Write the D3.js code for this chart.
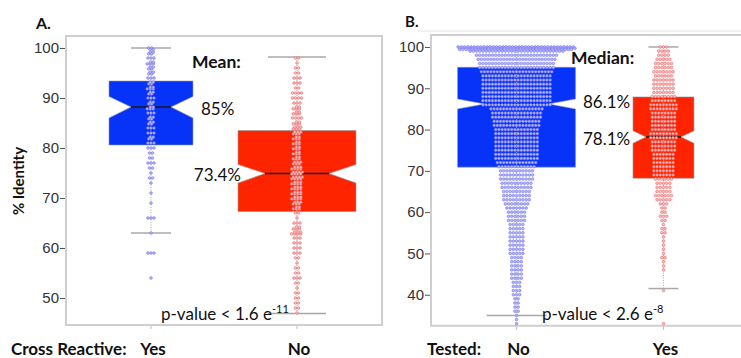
<!DOCTYPE html>
<html>
<head>
<meta charset="utf-8">
<script src="https://cdn.jsdelivr.net/npm/d3@7"></script>
<style>
  body { margin: 0; background: #fff; }
  svg { display: block; font-family: Lato, "Liberation Sans", sans-serif; }
</style>
</head>
<body>
<div id="chart"></div>
<script>
// ---- data ----
// Panel A: cross reactive
const groupsA = ["Yes", "No"];
const q1A = [80.6, 67.3];
const medA = [88.2, 74.9];
const q3A = [93.4, 83.5];
const notchLoA = [86.0, 73.0];
const notchHiA = [90.3, 76.7];
const whiskLoA = [63.0, 46.9];
const whiskHiA = [100, 98.2];
// dot counts per 1% bin, starting at topBin and going down
const topBinA = [100, 98];
const countsAYes = [4,4,3,5,4,4,3,4,5,4,3,4,5,3,4,4,3,3,4,3,3,2,2,3,2,1,2,1,0,1,0,1,0,0,3,0,0,1,0,0,0,3,0,0,0,0,1];
const countsANo = [2,1,2,2,3,3,2,4,4,3,5,5,4,5,6,6,5,5,5,5,5,6,7,8,8,7,7,7,7,6,5,2,1,3,5,7,3,3,3,3,2,1,2,2,3,2,1,2,2,2,2,1];

// Panel B: tested
const groupsB = ["No", "Yes"];
const q1B = [70.9, 68.2];
const medB = [86.2, 78.2];
const q3B = [95.1, 87.9];
const notchLoB = [85.0, 76.7];
const notchHiB = [87.4, 79.7];
const whiskLoB = [35.0, 41.5];
const whiskHiB = [100, 100];
const topBinB = [100, 100];
const countsBNo = [110,30,26,25,24,24,23,22,22,22,22,22,22,22,22,17,16,16,15,15,14,14,14,14,14,14,14,14,13,12,11,11,11,10,10,9,9,9,8,7,6,6,6,5,5,5,5,5,5,5,5,4,4,4,4,4,4,3,3,3,3,2,2,2,2,1,1,1];
const countsBYes = [3,4,4,5,6,6,7,6,7,7,7,7,8,8,9,9,8,8,8,8,8,9,9,8,8,8,7,7,7,7,7,7,6,5,5,5,6,5,3,2,2,3,2,1,2,2,1,1,1,1,1,2,1,1,1,0,0,0,0,1,0,0,0,0,0,0,0,1];

const ticksA = [50, 60, 70, 80, 90, 100];
const ticksB = [40, 50, 60, 70, 80, 90, 100];

// ---- drawing ----
const W = 741, H = 358;
const svg = d3.select('#chart').append('svg').attr('width', W).attr('height', H);

const blue = '#0633f7', red = '#ff2400';
const dotStyle = {
  blue: { fill: '#b8b8fb', stroke: '#7474ec' },
  red: { fill: '#fbc0c0', stroke: '#e86868' }
};

function drawPanel(opt) {
  const g = svg.append('g');
  const x = d3.scalePoint().domain(opt.groups).range([opt.left, opt.right]).padding(0.582);
  const y = d3.scaleLinear().domain(opt.yDomain).range([opt.bottom, opt.top]);

  // frame
  g.append('path')
    .attr('d', `M${opt.right},${opt.top}H${opt.left}V${opt.bottom}H${opt.right}` + (opt.closeRight ? 'Z' : ''))
    .attr('fill', 'none').attr('stroke', '#cfcfcf').attr('stroke-width', 2);

  // y axis
  const ax = g.append('g').attr('transform', `translate(${opt.left - 1},0)`)
    .call(d3.axisLeft(y).tickValues(opt.ticks).tickSize(5).tickPadding(1));
  ax.select('.domain').remove();
  ax.selectAll('line').attr('stroke', '#555');
  ax.selectAll('text').attr('fill', '#333').style('font-size', '15px');

  // x ticks
  g.selectAll('.xt').data(opt.groups).enter().append('line')
    .attr('x1', d => x(d)).attr('x2', d => x(d))
    .attr('y1', opt.bottom + 1).attr('y2', opt.bottom + 4)
    .attr('stroke', '#bbb');

  opt.groups.forEach((grp, i) => {
    const cx = x(grp);
    const bw = opt.boxW[i] / 2, ins = opt.notch[i];
    const yq1 = y(opt.q1[i]), yq3 = y(opt.q3[i]), ym = y(opt.med[i]);
    const ynl = y(opt.notchLo[i]), ynh = y(opt.notchHi[i]);
    const L = cx - bw, R = cx + bw;
    const pts = [[L, yq3], [R, yq3], [R, ynh], [R - ins, ym], [R, ynl], [R, yq1],
                 [L, yq1], [L, ynl], [L + ins, ym], [L, ynh]];
    g.append('polygon').attr('points', pts.map(p => p.join(',')).join(' '))
      .attr('fill', opt.colors[i]).attr('stroke', '#9a9a9a').attr('stroke-width', 0.6);
    g.append('line').attr('x1', L + ins).attr('x2', R - ins).attr('y1', ym).attr('y2', ym)
      .attr('stroke', '#1a1a1a').attr('stroke-width', 1.6);

    // whiskers
    const cw = opt.capW[i] / 2;
    g.append('line').attr('x1', cx).attr('x2', cx)
      .attr('y1', y(opt.whiskLo[i])).attr('y2', y(opt.whiskHi[i]))
      .attr('stroke', '#aaa').attr('stroke-width', 1).attr('stroke-dasharray', '1,1.5');
    [opt.whiskLo[i], opt.whiskHi[i]].forEach(v => {
      g.append('line').attr('x1', cx - cw).attr('x2', cx + cw).attr('y1', y(v)).attr('y2', y(v))
        .attr('stroke', '#a8a8a8').attr('stroke-width', 1.5);
    });

    // dots: each 1% bin becomes one or more rows spread sideways
    const counts = opt.counts[i], top = opt.topBin[i], maxPer = opt.maxPer[i];
    const dots = [];
    counts.forEach((n, k) => {
      if (!n) return;
      const c = top - k;
      const rows = Math.ceil(n / maxPer);
      for (let r = 0; r < rows; r++) {
        const m = Math.floor(n / rows) + (r < n % rows ? 1 : 0);
        let v = rows > 1 ? c + ((r + 0.5) / rows - 0.5) * 0.7 : c;
        if (c >= 100) v = 100 - r * 0.3;
        const shift = rows > 1 ? (r % 2 ? 0.8 : -0.8) : 0;
        for (let j = 0; j < m; j++) {
          dots.push({ x: cx + (j - (m - 1) / 2) * opt.dx + shift, y: y(v) });
        }
      }
    });
    const st = dotStyle[opt.dotColors[i]];
    g.selectAll(null).data(dots).enter().append('circle')
      .attr('cx', d => d.x).attr('cy', d => d.y).attr('r', 1.35)
      .attr('fill', st.fill).attr('stroke', st.stroke).attr('stroke-width', 0.6);
  });

  // category labels
  g.selectAll('.cat').data(opt.groups).enter().append('text')
    .attr('x', d => x(d) + 2).attr('y', 355).attr('text-anchor', 'middle')
    .style('font-size', '17px').style('font-weight', 'bold').attr('fill', '#111')
    .text(d => d);

  return { x, y, g };
}

const A = drawPanel({
  groups: groupsA, left: 66, right: 382, top: 36, bottom: 325, closeRight: true,
  yDomain: [44.6, 102.4], ticks: ticksA,
  q1: q1A, med: medA, q3: q3A, notchLo: notchLoA, notchHi: notchHiA,
  whiskLo: whiskLoA, whiskHi: whiskHiA, counts: [countsAYes, countsANo], topBin: topBinA,
  boxW: [84, 118], notch: [22, 27], capW: [40, 58], maxPer: [3, 4], dx: 3,
  colors: [blue, red], dotColors: ['blue', 'red']
});

// faint line above panel B
svg.append('line').attr('x1', 418).attr('x2', 741).attr('y1', 31).attr('y2', 31)
  .attr('stroke', '#e2e2e2').attr('stroke-width', 1);

const B = drawPanel({
  groups: groupsB, left: 431, right: 749, top: 35, bottom: 325.7, closeRight: false,
  yDomain: [32.5, 102.9], ticks: ticksB,
  q1: q1B, med: medB, q3: q3B, notchLo: notchLoB, notchHi: notchHiB,
  whiskLo: whiskLoB, whiskHi: whiskHiB, counts: [countsBNo, countsBYes], topBin: topBinB,
  boxW: [118, 61], notch: [27, 13], capW: [60, 30], maxPer: [38, 10], dx: 3.2,
  colors: [blue, red], dotColors: ['blue', 'red']
});

// ---- annotations ----
function label(x, y, txt, size, weight, anchor) {
  return svg.append('text').attr('x', x).attr('y', y).attr('text-anchor', anchor || 'start')
    .style('font-size', size + 'px').style('font-weight', weight || 'normal')
    .attr('fill', '#111').text(txt);
}

label(36, 29, 'A.', 16, 'bold');
label(405, 27, 'B.', 15, 'bold');

svg.append('text').attr('transform', 'translate(24,181) rotate(-90)')
  .attr('text-anchor', 'middle').style('font-size', '15px').style('font-weight', 'bold')
  .attr('fill', '#111').text('% Identity');

label(192, 68, 'Mean:', 17.5, 'bold');
label(201, 115, '85%', 17);
label(241, 181, '73.4%', 17, 'normal', 'end');

label(571, 64, 'Median:', 17.5, 'bold');
label(583, 108, '86.1%', 17);
label(583, 145, '78.1%', 17);

function pval(x, y, base, exp) {
  const t = label(x, y, base, 17);
  t.append('tspan').attr('dy', -7).style('font-size', '11px').text(exp);
}
pval(161, 320, 'p-value < 1.6 e', '-11');
pval(542, 320, 'p-value < 2.6 e', '-8');

label(11, 355, 'Cross Reactive:', 17, 'bold');
label(427, 355, 'Tested:', 17, 'bold');
</script>
</body>
</html>
